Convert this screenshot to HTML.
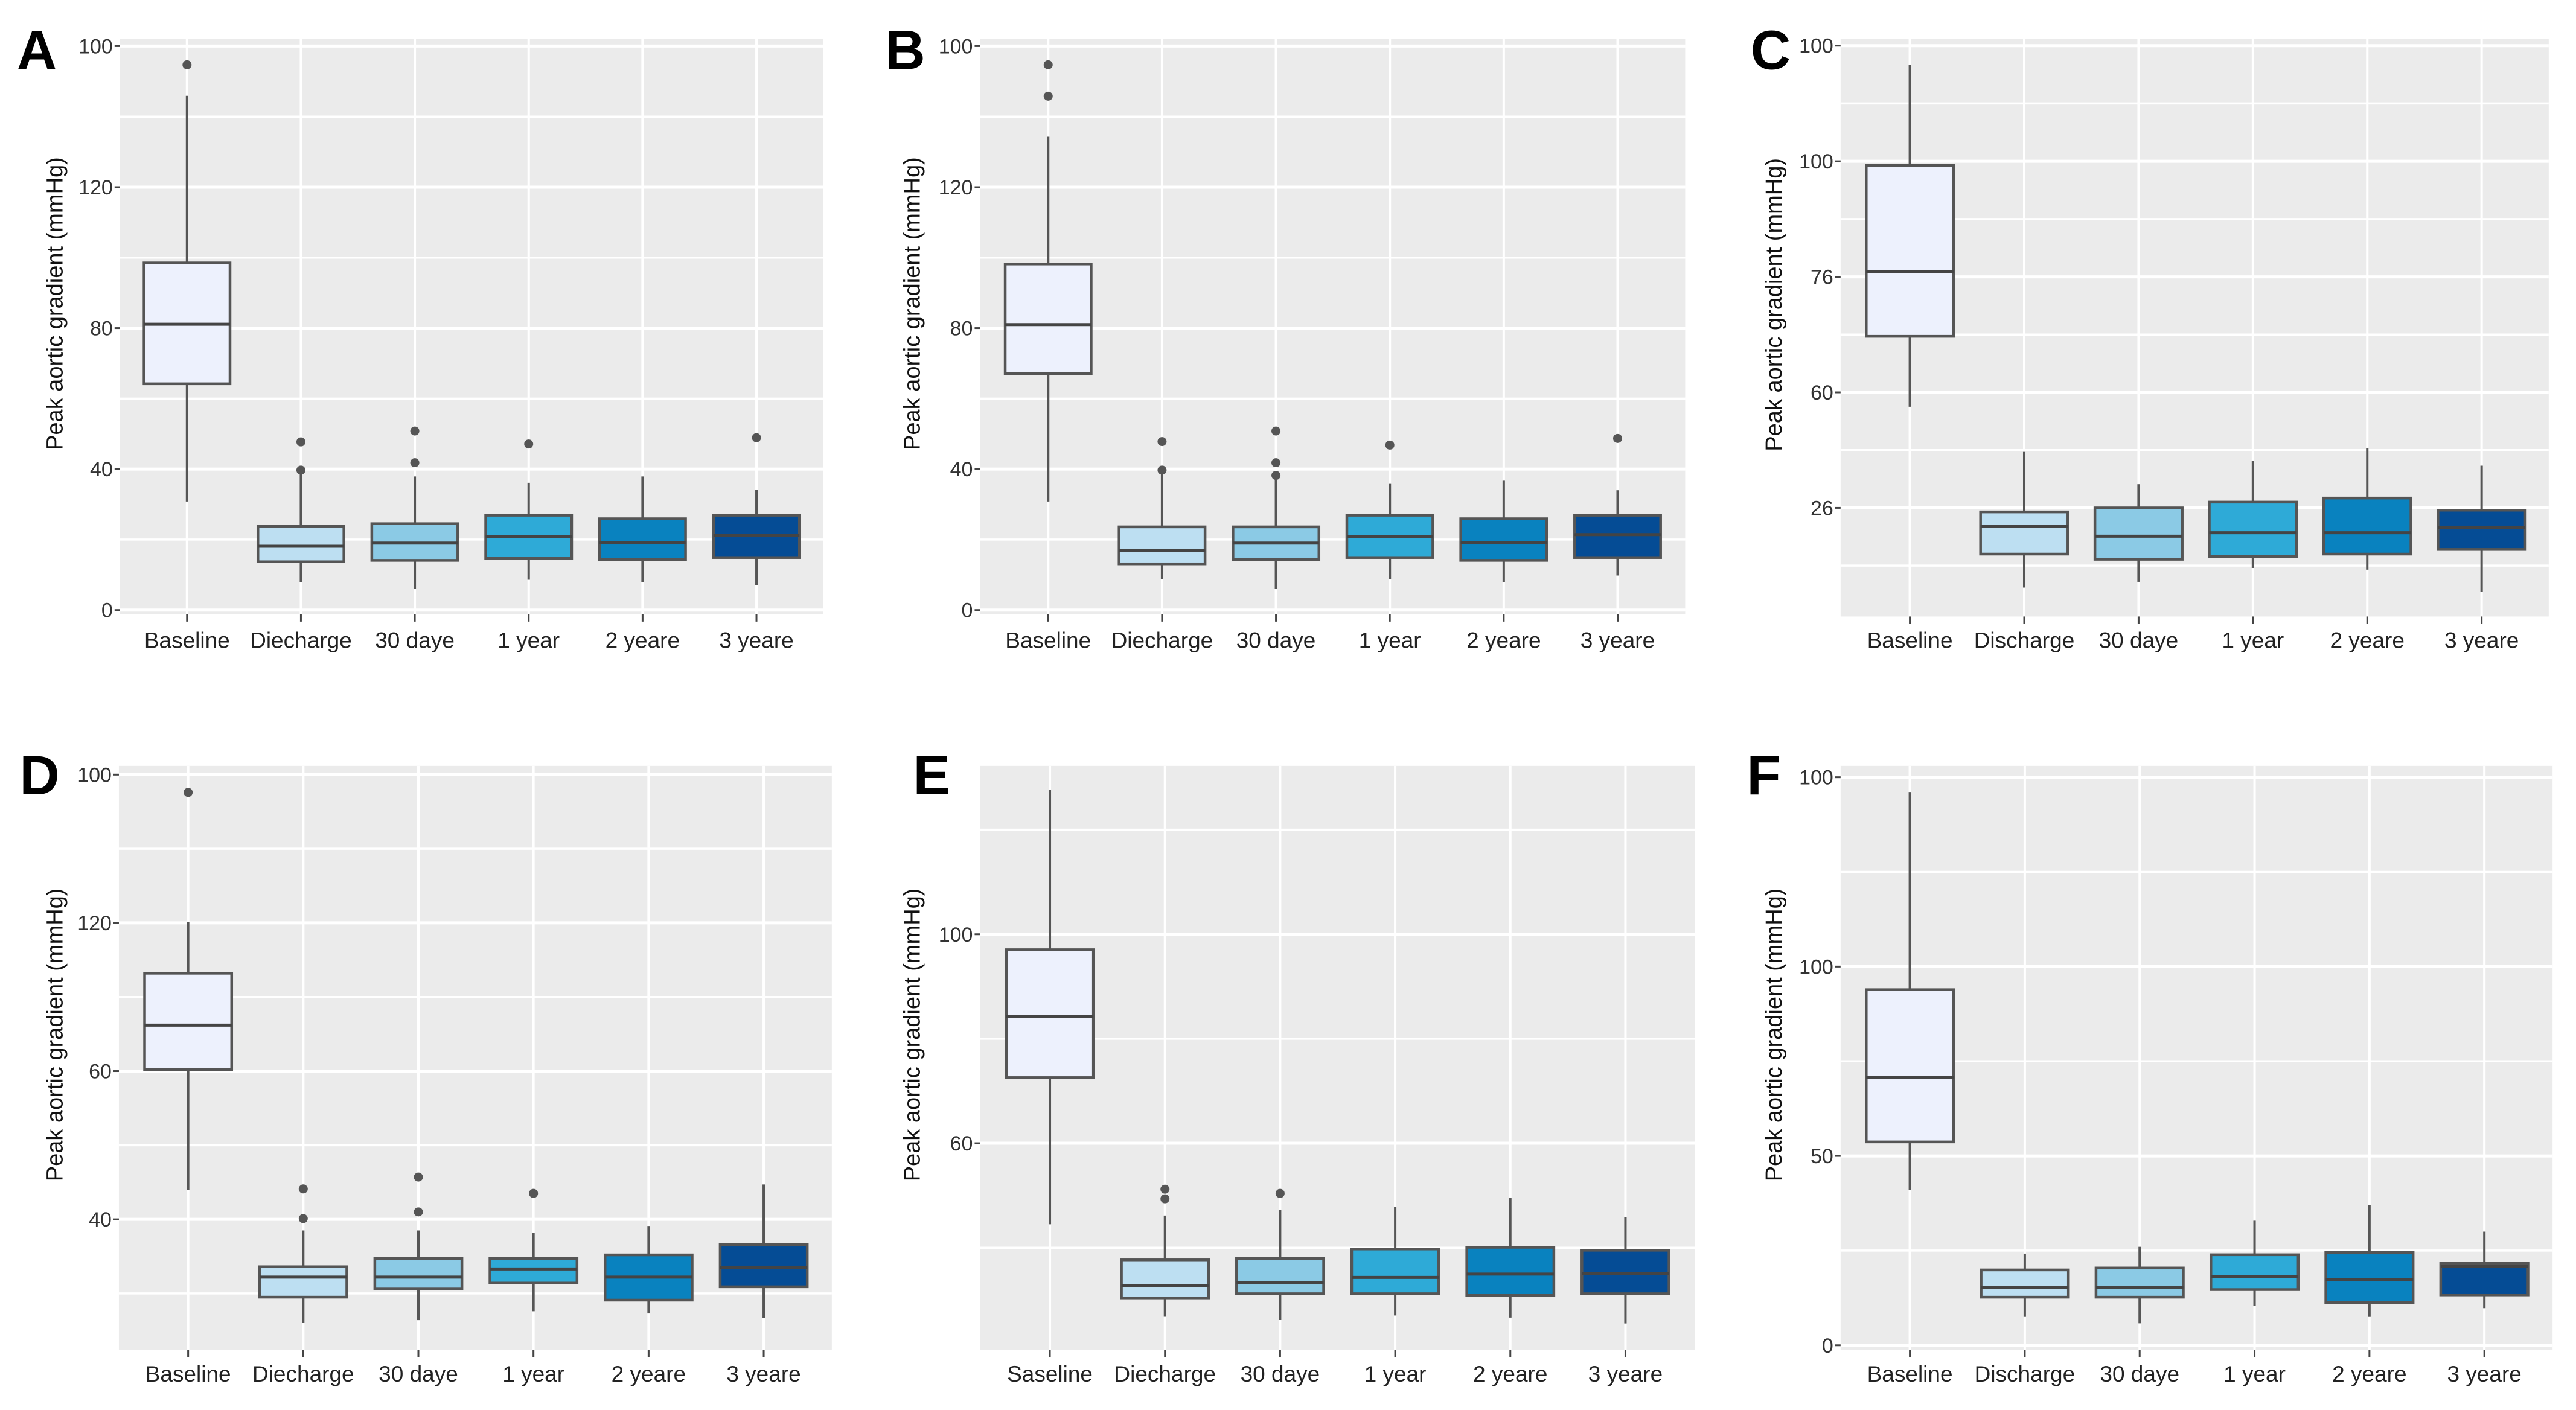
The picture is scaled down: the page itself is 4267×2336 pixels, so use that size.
<!DOCTYPE html>
<html><head><meta charset="utf-8"><style>
html,body{margin:0;padding:0;background:#fff;}
svg{display:block;}
text{font-family:"Liberation Sans",Arial,sans-serif;}
</style></head><body>
<svg id="fig" width="4267" height="2336" viewBox="0 0 4267 2336" xmlns="http://www.w3.org/2000/svg"></svg>
<script>
const categories = ["Baseline","Discharge","30 days","1 year","2 years","3 years"];
const catLabelsA = ["Baseline","Diecharge","30 daye","1 year","2 yeare","3 yeare"];
const catLabelsC = ["Baseline","Discharge","30 daye","1 year","2 yeare","3 yeare"];
const catLabelsD = ["Baseline","Diecharge","30 daye","1 year","2 yeare","3 yeare"];
const catLabelsE = ["Saseline","Diecharge","30 daye","1 year","2 yeare","3 yeare"];
const catLabelsF = ["Baseline","Discharge","30 daye","1 year","2 yeare","3 yeare"];
const fills = ["#edf1fd","#bddff2","#8bcae5","#2eaad7","#0982bf","#054c95"];

// y ticks (value positions) and their printed labels
const ticksA = [0,40,80,120,160], tickLabelsA = ["0","40","80","120","100"];
const ticksC = [20,40,60,80,100], tickLabelsC = ["26","60","76","100","100"];
const ticksD = [20,40,60,80], tickLabelsD = ["40","60","120","100"];
const ticksE = [50,100], tickLabelsE = ["60","100"];
const ticksF = [0,50,100,150], tickLabelsF = ["0","50","100","100"];

// box stats per category: [low whisker, Q1, median, Q3, high whisker]
const statsA = [[30.8,64.2,81.1,98.5,145.9],[7.9,13.7,18.1,23.8,39.1],[6.1,14.1,19,24.5,37.9],[8.6,14.7,20.8,26.9,36.1],[7.9,14.3,19.2,25.9,37.9],[7.1,14.9,21.2,26.9,34.2]];
const outliersA = [[154.7],[47.7,39.7],[50.8,41.8],[47.1],[],[48.9]];
const statsB = [[30.8,67.1,81,98.2,134.3],[8.8,13.1,16.9,23.6,39],[6.1,14.3,19,23.6,37.9],[8.8,14.9,20.8,26.9,35.8],[7.9,14.1,19.2,25.9,36.7],[9.8,14.9,21.4,26.9,34]];
const outliersB = [[154.7,145.8],[47.8,39.7],[50.8,41.8,38.2],[46.8],[],[48.7]];
const statsC = [[37.5,49.7,60.9,79.3,96.7],[6.2,12,16.8,19.3,29.7],[7.2,11.1,15.1,20,24.1],[9.6,11.6,15.7,21,28.1],[9.3,12,15.7,21.7,30.3],[5.5,12.8,16.6,19.6,27.3]];
const outliersC = [[],[],[],[],[],[]];
const statsD = [[24,40.2,46.2,53.2,60.1],[6,9.5,12.2,13.6,18.5],[6.4,10.6,12.2,14.7,18.5],[7.6,11.4,13.3,14.7,18.2],[7.3,9.1,12.2,15.2,19.1],[6.7,10.9,13.5,16.6,24.7]];
const outliersD = [[77.6],[24.1,20.1],[25.7,21],[23.5],[],[]];
const statsE = [[30.6,65.7,80.3,96.3,134.5],[8.5,13,16,22.1,32.7],[7.7,14,16.7,22.4,34.1],[8.8,14,17.9,24.7,34.8],[8.3,13.6,18.7,25.1,37],[6.9,14,18.9,24.4,32.3]];
const outliersE = [[],[39,36.7],[38],[],[],[]];
const statsF = [[41,53.7,70.7,93.9,146.1],[7.5,12.7,15.2,19.9,24.2],[5.8,12.7,15.2,20.4,26],[10.4,14.7,18.1,23.9,32.9],[7.5,11.3,17.3,24.5,37],[9.8,13.3,20.8,21.6,30]];
const outliersF = [[],[],[],[],[],[]];

const NS = "http://www.w3.org/2000/svg";
const svg = document.getElementById("fig");
function el(tag, attrs, parent){
  const e = document.createElementNS(NS, tag);
  for (const k in attrs) e.setAttribute(k, attrs[k]);
  (parent||svg).appendChild(e); return e;
}

const panels = [
  {id:"a",letter:"A",ox:0,oy:0,sx:1450/1568,sy:1120/1568,L:215,R:1475,T:90,B:1425,y0:1415,ppu:327/40,cx0:335,cdx:204,hw:77,ticks:ticksA,tl:tickLabelsA,labels:catLabelsA,stats:statsA,out:outliersA,letterX:30},
  {id:"b",letter:"B",ox:1420,oy:0,sx:1450/1568,sy:1120/1568,L:220,R:1483,T:90,B:1425,y0:1415,ppu:327/40,cx0:342,cdx:204,hw:77,ticks:ticksA,tl:tickLabelsA,labels:catLabelsA,stats:statsB,out:outliersB,letterX:50},
  {id:"c",letter:"C",ox:2850,oy:0,sx:1417/1568,sy:1120/1568,L:220,R:1518,T:90,B:1430,y0:1446,ppu:268/20,cx0:347,cdx:209.6,hw:80,ticks:ticksC,tl:tickLabelsC,labels:catLabelsC,stats:statsC,out:outliersC,letterX:55},
  {id:"d",letter:"D",ox:0,oy:1200,sx:1450/1568,sy:1136/1568,L:213,R:1490,T:95,B:1430,y0:1471,ppu:339/20,cx0:337,cdx:206.2,hw:78,ticks:ticksD,tl:tickLabelsD,labels:catLabelsD,stats:statsD,out:outliersD,letterX:35},
  {id:"e",letter:"E",ox:1420,oy:1200,sx:1450/1568,sy:1136/1568,L:220,R:1500,T:95,B:1430,y0:1436,ppu:478/50,cx0:345,cdx:206.2,hw:78,ticks:ticksE,tl:tickLabelsE,labels:catLabelsE,stats:statsE,out:outliersE,letterX:100},
  {id:"f",letter:"F",ox:2850,oy:1200,sx:1417/1568,sy:1136/1568,L:220,R:1525,T:95,B:1430,y0:1420,ppu:433/50,cx0:347,cdx:210.6,hw:80,ticks:ticksF,tl:tickLabelsF,labels:catLabelsF,stats:statsF,out:outliersF,letterX:48}
];

panels.forEach(p=>{
  const X = zx => p.ox + zx*p.sx;
  const Yz = zy => p.oy + zy*p.sy;
  const yScale = v => Yz(p.y0 - v*p.ppu);
  const xScale = i => X(p.cx0 + i*p.cdx);
  const g = el("g",{});
  
  
  const L=X(p.L), R=X(p.R), T=Yz(p.T), B=Yz(p.B);
  const bg = el("rect",{x:L,y:T,width:R-L,height:B-T,fill:"#ebebeb"},g);
  
  
  const step = p.ticks.length>1 ? p.ticks[1]-p.ticks[0] : 50;
  const vmin = (p.y0-p.B)/p.ppu, vmax = (p.y0-p.T)/p.ppu;
  for (let v = p.ticks[0]-step*4; v <= vmax+0.01; v += step/2){
    if (v < vmin-0.01) continue;
    const y = yScale(v);
    const major = p.ticks.some(t=>Math.abs(t-v)<0.01);
    const gl = el("line",{x1:L,x2:R,y1:y,y2:y,stroke:"#ffffff","stroke-width":major?5:3.5},g);
    
    
  }
  categories.forEach((c,i)=>{
    const x = xScale(i);
    const vg = el("line",{x1:x,x2:x,y1:T,y2:B,stroke:"#ffffff","stroke-width":4},g);
    
    
  });
  p.ticks.forEach((t,k)=>{
    const y = yScale(t);
    const tk = el("line",{x1:L-9,x2:L,y1:y,y2:y,stroke:"#444","stroke-width":3},g);
    
    
    const tx = el("text",{x:L-12,y:y+12,"text-anchor":"end","font-size":34,fill:"#333"},g);
    tx.textContent = p.tl[k];
    
    
  });
  const ty = (T+B)/2 - 40;
  const yt = el("text",{x:X(112)-2,y:ty,transform:`rotate(-90 ${X(112)} ${ty})`,"text-anchor":"middle","font-size":38,fill:"#111"},g);
  yt.textContent = "Peak aortic gradient (mmHg)";
  
  
  const lt = el("text",{x:X(p.letterX),y:Yz(160),"font-size":92,"font-weight":"bold",fill:"#000"},g);
  lt.textContent = p.letter;
  
  
  categories.forEach((c,i)=>{
    const s = p.stats[i];
    const x = xScale(i), hw = p.hw*p.sx;
    const bx = el("g",{},g);
    
    
    const xt = el("line",{x1:x,x2:x,y1:B,y2:B+12,stroke:"#444","stroke-width":3},bx);
    
    
    const w1 = el("line",{x1:x,x2:x,y1:yScale(s[3]),y2:yScale(s[4]),stroke:"#555","stroke-width":4},bx);
    
    
    const w2 = el("line",{x1:x,x2:x,y1:yScale(s[1]),y2:yScale(s[0]),stroke:"#555","stroke-width":4},bx);
    
    
    const r = el("rect",{x:x-hw,y:yScale(s[3]),width:2*hw,height:yScale(s[1])-yScale(s[3]),fill:fills[i],stroke:"#555","stroke-width":4.5},bx);
    
    
    const m = el("line",{x1:x-hw,x2:x+hw,y1:yScale(s[2]),y2:yScale(s[2]),stroke:"#444","stroke-width":5},bx);
    
    
    p.out[i].forEach(o=>{
      const d = el("circle",{cx:x,cy:yScale(o),r:7.5,fill:"#555"},bx);
      
      
    });
    const xl = el("text",{x:x,y:Yz(1503),"text-anchor":"middle","font-size":37,fill:"#222"},g);
    xl.textContent = p.labels[i];
    
    
  });
});
</script>
</body></html>
